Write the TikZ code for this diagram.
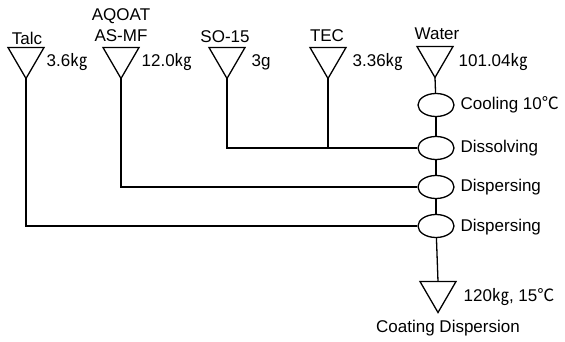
\documentclass[tikz,border=0pt]{standalone}
\usepackage{fontspec}
\setmainfont{Liberation Sans}
\newfontfamily\cjk{Noto Sans CJK JP}
\usetikzlibrary{shapes.geometric}
\newcommand{\kgunit}{{\cjk ㎏}}
\newcommand{\degunit}{{\cjk ℃}}

\begin{document}
\begin{tikzpicture}[x=1pt,y=-1pt,line width=1.3pt,font=\fontsize{17}{20}\selectfont,
  tank/.style={minimum width=36pt,minimum height=31pt,inner sep=0pt,outer sep=0pt,
    append after command={\pgfextra{\draw (\tikzlastnode.north west) --
      (\tikzlastnode.north east) -- (\tikzlastnode.south) -- cycle;}}},
  vessel/.style={draw,ellipse,minimum width=36pt,minimum height=23pt,inner sep=0pt},
  amount/.style={anchor=west,inner sep=0pt},
  title/.style={inner sep=0pt}]
  \useasboundingbox (0,0) rectangle (565,342);
  \node[tank] (talc) at (26,63) {};
  \node[tank] (aqoat) at (121,63) {};
  \node[tank] (so) at (227,63) {};
  \node[tank] (tec) at (328,63) {};
  \node[tank] (water) at (435,62) {};
  \node[title] (talct) at (27,38) {Talc};
  \node[title] (aqoatt) at (121,16) {AQOAT};
  \node[title] (asmft) at (121,36) {AS-MF};
  \node[title] (sot) at (225,37) {SO-15};
  \node[title] (tect) at (327,36) {TEC};
  \node[title] (watert) at (437,34) {Water};
  \node[amount] (talca) at (46,62) {3.6\kgunit};
  \node[amount] (aqoata) at (141,62) {12.0\kgunit};
  \node[amount] (soa) at (251,62) {3g};
  \node[amount] (teca) at (352,62) {3.36\kgunit};
  \node[amount] (watera) at (458,62) {101.04\kgunit};
  \node[vessel] (cool) at (436,105) {};
  \node[vessel] (diss) at (436,148) {};
  \node[vessel] (disp) at (436,187) {};
  \node[vessel] (dispb) at (436,226) {};
  \node[amount] (coolt) at (460,105) {Cooling 10\degunit};
  \node[amount] (disst) at (460,148) {Dissolving};
  \node[amount] (dispt) at (460,187) {Dispersing};
  \node[amount] (dispbt) at (460,227) {Dispersing};
  \node[tank] (product) at (438,297) {};
  \node[amount] (producta) at (463,297) {120\kgunit, 15\degunit};
  \node[title] (productt) at (448,328) {Coating Dispersion};
  \draw (water.south) -- (cool);
  \draw (cool) -- (diss);
  \draw (diss) -- (disp);
  \draw (disp) -- (dispb);
  \draw (dispb) -- (product.north);
  \draw (so.south) |- (diss);
  \draw (tec.south) -- (tec.south |- diss);
  \draw (aqoat.south) |- (disp);
  \draw (talc.south) |- (dispb);
\end{tikzpicture}
\end{document}
